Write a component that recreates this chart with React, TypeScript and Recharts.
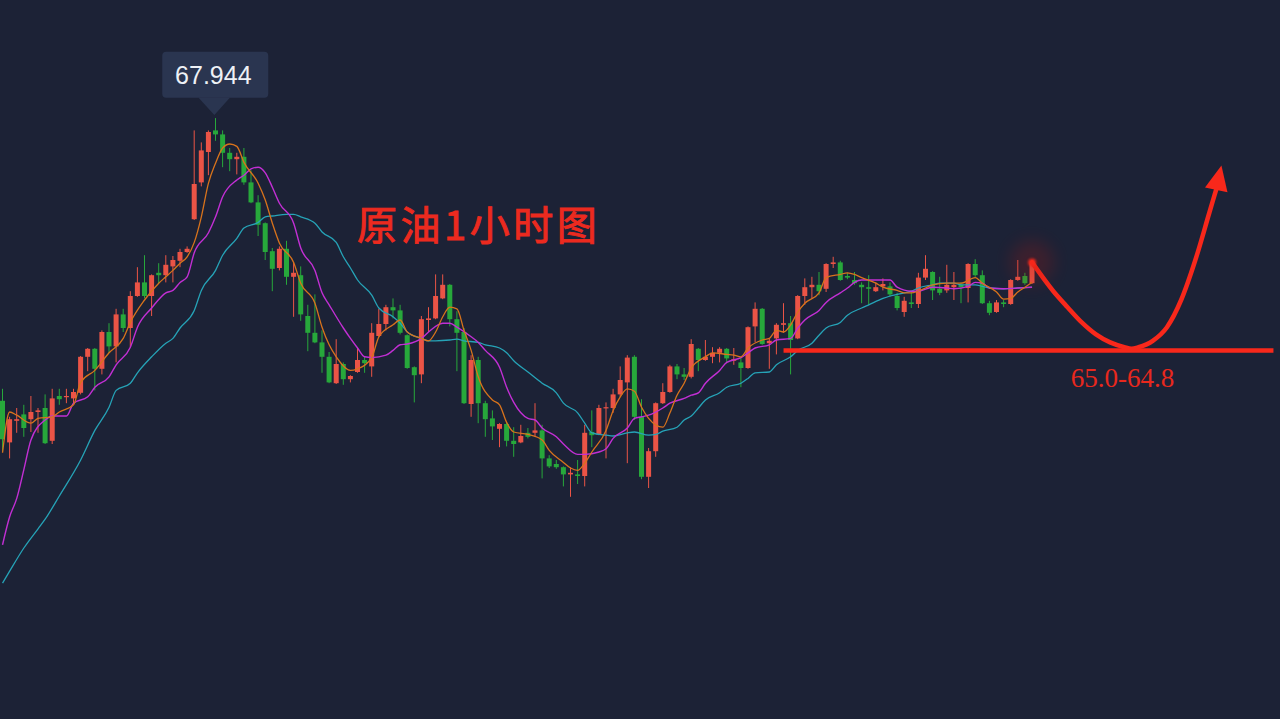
import React from "react";
import { ComposedChart, Bar, Line, XAxis, YAxis, ReferenceDot } from "recharts";

// ---- candle data (1-hour crude oil), index 0..145 ----
const opens = [
  64.41, 63.89, 64.16, 64.24, 64.18, 64.27, 64.32, 63.91, 64.47, 64.46,
  64.44, 64.51, 64.96, 65.06, 64.81, 65.27, 65.09, 65.49, 65.32, 65.72,
  65.89, 65.72, 66.01, 65.98, 66.09, 66.16, 66.27, 66.68, 67.14, 67.52,
  67.79, 67.74, 67.51, 67.43, 67.46, 67.14, 66.89, 66.63, 66.28, 66.07,
  66.31, 65.96, 65.98, 65.47, 65.26, 65.14, 64.96, 64.63, 64.87, 64.68,
  64.77, 64.92, 64.84, 65.22, 65.37, 65.58, 65.54, 65.23, 64.83, 64.74,
  65.42, 65.44, 65.69, 65.86, 65.43, 65.27, 64.37, 64.92, 64.38, 64.19,
  64.06, 64.12, 63.91, 63.89, 64.01, 64.01, 64.04, 63.69, 63.62, 63.58,
  63.49, 63.49, 63.47, 64.02, 63.99, 64.32, 64.32, 64.49, 64.64, 64.96,
  64.21, 63.46, 63.78, 64.38, 64.52, 64.84, 64.74, 64.71, 65.06, 64.92,
  64.96, 65.01, 65.06, 64.91, 64.89, 64.82, 65.34, 65.56, 65.13, 65.19,
  65.36, 65.38, 65.19, 65.72, 65.83, 65.86, 65.81, 66.12, 66.14, 65.97,
  65.92, 65.86, 65.83, 65.78, 65.84, 65.84, 65.72, 65.52, 65.64, 65.62,
  65.95, 66.02, 65.81, 65.79, 65.83, 65.86, 65.82, 66.12, 65.98, 65.63,
  65.52, 65.64, 65.62, 65.92, 65.97, 65.88,
];
const highs = [
  64.56, 64.21, 64.32, 64.36, 64.47, 64.32, 64.49, 64.56, 64.56, 64.56,
  64.56, 64.97, 65.07, 65.07, 65.29, 65.38, 65.56, 65.56, 65.78, 66.08,
  66.23, 65.99, 66.13, 66.23, 66.22, 66.31, 66.34, 67.79, 67.64, 67.79,
  67.944, 67.79, 67.57, 67.51, 67.57, 67.29, 66.98, 66.64, 66.32, 66.34,
  66.41, 66.14, 66.09, 65.61, 65.74, 65.29, 65.02, 65.18, 64.89, 64.73,
  65.08, 64.96, 65.38, 65.56, 65.61, 65.69, 65.61, 65.24, 64.84, 65.47,
  65.58, 65.99, 65.99, 65.87, 65.53, 65.32, 64.98, 64.96, 64.41, 64.29,
  64.13, 64.14, 64.08, 64.11, 64.07, 64.38, 64.11, 63.73, 63.67, 63.59,
  63.58, 63.67, 64.11, 64.29, 64.36, 64.39, 64.56, 64.84, 64.98, 64.98,
  64.43, 63.82, 64.39, 64.63, 64.86, 64.87, 64.82, 65.18, 65.07, 65.17,
  65.08, 65.08, 65.07, 65.07, 64.96, 65.34, 65.64, 65.57, 65.19, 65.38,
  65.63, 65.47, 65.73, 65.94, 65.96, 66.02, 66.13, 66.21, 66.16, 66.01,
  66.02, 65.89, 65.98, 65.89, 65.94, 65.89, 65.76, 65.71, 65.77, 66.01,
  66.23, 66.03, 65.96, 66.11, 66.02, 65.89, 66.13, 66.18, 66.04, 65.66,
  65.67, 65.67, 65.93, 66.17, 66.01, 66.17,
];
const lows = [
  63.77, 63.69, 64.01, 63.96, 64.02, 64.01, 63.87, 63.87, 64.36, 64.38,
  64.38, 64.49, 64.78, 64.54, 64.74, 65.01, 64.89, 65.27, 65.08, 65.71,
  65.69, 65.47, 65.88, 65.89, 65.89, 66.08, 66.26, 66.67, 67.09, 67.23,
  67.66, 67.33, 67.28, 67.24, 67.11, 66.88, 66.47, 66.17, 65.78, 66.04,
  65.86, 65.46, 65.41, 65.03, 65.13, 64.76, 64.63, 64.62, 64.61, 64.64,
  64.76, 64.76, 64.71, 65.21, 65.29, 65.44, 65.24, 64.81, 64.39, 64.63,
  65.27, 65.43, 65.68, 65.34, 64.78, 64.37, 64.21, 64.13, 63.96, 63.92,
  63.83, 63.84, 63.71, 63.88, 63.94, 63.96, 63.44, 63.57, 63.56, 63.34,
  63.21, 63.37, 63.34, 63.83, 63.98, 63.69, 64.26, 64.46, 63.63, 64.17,
  63.43, 63.32, 63.71, 64.37, 64.51, 64.68, 64.67, 64.69, 64.78, 64.91,
  64.88, 64.89, 64.88, 64.86, 64.58, 64.81, 65.14, 65.11, 64.81, 64.99,
  65.26, 64.74, 65.18, 65.61, 65.69, 65.73, 65.77, 66.07, 65.91, 65.93,
  65.86, 65.63, 65.61, 65.77, 65.79, 65.71, 65.54, 65.46, 65.57, 65.57,
  65.92, 65.67, 65.73, 65.76, 65.67, 65.63, 65.64, 65.96, 65.62, 65.48,
  65.51, 65.58, 65.61, 65.91, 65.86, 65.87,
];
const closes = [
  63.93, 64.18, 64.18, 64.07, 64.27, 64.29, 63.88, 64.44, 64.43, 64.47,
  64.52, 64.96, 65.06, 64.81, 65.27, 65.09, 65.49, 65.32, 65.72, 65.89,
  65.72, 65.98, 65.98, 66.11, 66.17, 66.27, 66.31, 67.12, 67.54, 67.77,
  67.74, 67.51, 67.43, 67.46, 67.14, 66.89, 66.61, 66.27, 66.06, 66.31,
  65.96, 66.01, 65.49, 65.26, 65.14, 64.96, 64.64, 64.87, 64.68, 64.72,
  64.92, 64.88, 65.26, 65.37, 65.58, 65.54, 65.26, 64.82, 64.73, 65.43,
  65.44, 65.72, 65.86, 65.43, 65.26, 64.38, 64.92, 64.38, 64.18, 64.09,
  64.12, 63.91, 63.87, 63.97, 63.96, 64.04, 63.69, 63.59, 63.58, 63.49,
  63.51, 63.47, 64.01, 63.98, 64.32, 64.33, 64.49, 64.67, 64.95, 64.21,
  63.46, 63.78, 64.38, 64.52, 64.84, 64.74, 64.71, 65.12, 64.92, 64.96,
  65.01, 65.06, 64.94, 64.93, 64.82, 65.33, 65.56, 65.12, 65.16, 65.36,
  65.38, 65.17, 65.72, 65.83, 65.86, 65.78, 66.12, 66.14, 65.92, 65.95,
  65.88, 65.83, 65.81, 65.83, 65.87, 65.74, 65.57, 65.66, 65.62, 65.95,
  66.06, 65.79, 65.76, 65.86, 65.86, 65.83, 66.12, 65.98, 65.63, 65.51,
  65.64, 65.62, 65.92, 65.96, 65.88, 66.13,
];

// ---- moving-average lines, read as [candle index, price] ----
const maFast: [number, number][] = [
  [0, 63.76], [1, 64.27], [2, 64.23], [4, 64.13], [5, 64.19], [7, 64.21], [8, 64.27], [10, 64.36],
  [11, 64.64], [13, 64.79], [15, 65.01], [17, 65.19], [18, 65.39], [20, 65.67], [22, 65.88], [23, 65.96],
  [24, 66.04], [25, 66.13], [26, 66.21], [27, 66.39], [28, 66.71], [29, 67.13], [30, 67.38], [31, 67.57],
  [32, 67.62], [33, 67.59], [34, 67.39], [36, 67.13], [37, 66.92], [38, 66.63], [39, 66.38], [41, 66.14],
  [42, 65.88], [44, 65.63], [45, 65.33], [46, 65.11], [47, 64.96], [49, 64.79], [50, 64.81], [52, 64.95],
  [53, 65.21], [55, 65.36], [56, 65.42], [57, 65.27], [59, 65.19], [60, 65.16], [61, 65.27], [62, 65.46],
  [63, 65.58], [64, 65.56], [65, 65.29], [66, 65.04], [67, 64.71], [69, 64.42], [70, 64.36], [71, 64.14],
  [72, 64.02], [74, 63.99], [76, 63.92], [77, 63.79], [79, 63.64], [80, 63.57], [81, 63.54], [82, 63.63],
  [83, 63.77], [85, 64.04], [86, 64.29], [87, 64.46], [88, 64.56], [89, 64.53], [90, 64.33], [91, 64.19],
  [93, 64.08], [94, 64.26], [95, 64.48], [96, 64.63], [97, 64.82], [99, 64.96], [100, 65.01], [102, 64.99],
  [103, 64.98], [104, 64.96], [105, 65.07], [107, 65.17], [108, 65.19], [109, 65.29], [110, 65.27], [111, 65.36],
  [112, 65.52], [113, 65.63], [115, 65.76], [116, 65.95], [118, 65.99], [119, 66.01], [120, 65.99], [121, 65.95],
  [123, 65.88], [124, 65.83], [126, 65.79], [127, 65.76], [128, 65.76], [130, 65.82], [131, 65.86], [133, 65.88],
  [134, 65.88], [135, 65.88], [137, 65.95], [138, 65.88], [140, 65.77], [141, 65.68], [142, 65.69], [143, 65.77],
  [144, 65.83], [145, 65.89],
];
const maMid: [number, number][] = [
  [0, 62.61], [1, 62.96], [2, 63.19], [3, 63.55], [4, 63.92], [6, 64.17], [7, 64.22], [9, 64.22], [10, 64.38],
  [12, 64.46], [13, 64.58], [15, 64.71], [16, 64.86], [18, 65.08], [19, 65.33], [21, 65.57], [23, 65.76],
  [24, 65.79], [25, 65.89], [26, 65.96], [27, 66.26], [29, 66.51], [30, 66.71], [31, 66.96], [33, 67.17],
  [34, 67.23], [35, 67.31], [36, 67.33], [37, 67.26], [38, 67.08], [39, 66.88], [41, 66.63], [42, 66.32],
  [44, 66.04], [45, 65.76], [46, 65.61], [48, 65.32], [49, 65.19], [50, 65.07], [51, 64.96], [52, 64.95],
  [54, 64.98], [55, 65.04], [56, 65.11], [57, 65.12], [59, 65.19], [60, 65.27], [62, 65.38], [63, 65.38],
  [64, 65.33], [66, 65.21], [67, 65.14], [68, 65.04], [70, 64.83], [71, 64.58], [72, 64.39], [74, 64.19],
  [75, 64.17], [76, 64.07], [78, 63.96], [79, 63.87], [81, 63.74], [82, 63.74], [84, 63.77], [85, 63.81],
  [86, 63.94], [88, 64.07], [89, 64.19], [90, 64.21], [91, 64.23], [93, 64.32], [94, 64.38], [96, 64.44],
  [97, 64.48], [98, 64.51], [99, 64.63], [101, 64.79], [102, 64.89], [104, 64.95], [105, 65.01], [106, 65.07],
  [108, 65.11], [109, 65.17], [111, 65.19], [112, 65.32], [113, 65.42], [115, 65.54], [116, 65.64], [118, 65.76],
  [119, 65.82], [120, 65.89], [121, 65.92], [123, 65.92], [125, 65.92], [126, 65.83], [128, 65.78], [129, 65.78],
  [131, 65.83], [133, 65.82], [134, 65.81], [136, 65.84], [137, 65.89], [138, 65.88], [139, 65.82], [141, 65.81],
  [143, 65.82], [145, 65.83],
];
const maSlow: [number, number][] = [
  [0, 62.13], [1, 62.28], [3, 62.57], [5, 62.81], [6, 62.93], [8, 63.22], [11, 63.67], [13, 64.04], [15, 64.33], [16, 64.54],
  [18, 64.63], [19, 64.76], [21, 64.96], [23, 65.13], [24, 65.19], [25, 65.32], [27, 65.54], [28, 65.79],
  [30, 66.04], [31, 66.23], [33, 66.44], [34, 66.57], [36, 66.64], [37, 66.71], [38, 66.72], [40, 66.74],
  [41, 66.74], [42, 66.71], [44, 66.63], [45, 66.52], [47, 66.39], [48, 66.21], [49, 66.07], [50, 65.92],
  [52, 65.73], [53, 65.57], [55, 65.46], [56, 65.38], [57, 65.27], [59, 65.19], [60, 65.16], [61, 65.16],
  [63, 65.17], [64, 65.18], [65, 65.16], [67, 65.14], [68, 65.11], [70, 65.07], [71, 65.01], [72, 64.91],
  [74, 64.77], [76, 64.63], [78, 64.51], [79, 64.38], [81, 64.26], [82, 64.13], [83, 64.01], [85, 63.98],
  [86, 63.97], [88, 64.01], [89, 64.02], [91, 63.98], [92, 63.99], [93, 64.03], [95, 64.08], [96, 64.17],
  [97, 64.22], [98, 64.32], [99, 64.42], [101, 64.51], [102, 64.58], [104, 64.63], [105, 64.69], [106, 64.76],
  [108, 64.77], [109, 64.86], [111, 64.96], [112, 65.04], [114, 65.13], [115, 65.23], [116, 65.32], [118, 65.39],
  [119, 65.48], [121, 65.57], [122, 65.61], [124, 65.69], [125, 65.72], [127, 65.76], [128, 65.78], [129, 65.82],
  [131, 65.86], [132, 65.88], [134, 65.88], [135, 65.86], [137, 65.86], [138, 65.84], [139, 65.82], [141, 65.81],
  [143, 65.82], [145, 65.83],
];

// ---- annotations ----
const projection: [number, number][] = [
  [145, 66.14], [148, 65.78], [150, 65.58], [152, 65.39], [154, 65.24], [156, 65.14], [158, 65.08],
  [159, 65.06], [160, 65.08], [162, 65.16], [164, 65.33], [166, 65.67], [168, 66.17], [170, 66.77], [171, 67.07],
];
const supportLevel: [number, number][] = [[110, 65.04], [179, 65.04]];
const supportLabel = "65.0-64.8";
const titleText = "原油1小时图";
const peakIndex = 30;
const CATEGORY_COUNT = 180;

const RED = "#eb5446";
const GREEN = "#27a83b";
const BG = "#1c2236";
const MARK_RED = "#f8281b";

const table: any[] = Array.from({ length: CATEGORY_COUNT }, (_, i) => {
  const row: any = { i };
  if (i < opens.length) {
    row.o = opens[i];
    row.h = highs[i];
    row.l = lows[i];
    row.c = closes[i];
    row.range = [lows[i], highs[i]];
  }
  return row;
});
maFast.forEach(([i, v]) => (table[i].ma1 = v));
maMid.forEach(([i, v]) => (table[i].ma2 = v));
maSlow.forEach(([i, v]) => (table[i].ma3 = v));
projection.forEach(([i, v]) => (table[i].proj = v));
supportLevel.forEach(([i, v]) => (table[i].level = v));

const Candle = (props: any) => {
  const { x, y, width, height, payload } = props;
  if (!payload || payload.o == null) return <g />;
  const { o, h, l, c } = payload;
  const top = Math.min(y, y + height);
  const hgt = Math.abs(height);
  const k = h - l > 0 ? hgt / (h - l) : 0;
  const yO = top + (h - o) * k;
  const yC = top + (h - c) * k;
  const color = c >= o ? RED : GREEN;
  const cx = x + width / 2;
  const bodyTop = Math.min(yO, yC);
  const bodyH = Math.max(Math.abs(yO - yC), 1.2);
  return (
    <g>
      <line x1={cx} x2={cx} y1={top} y2={top + hgt} stroke={color} strokeWidth={1} />
      <rect x={x} y={bodyTop} width={width} height={bodyH} fill={color} />
    </g>
  );
};

const NoDot = (props: any) => <g key={`nd-${props.dataKey}-${props.index}`} />;

const lastProj = projection[projection.length - 1][0];
const firstProj = projection[0][0];
const ProjDot = (props: any) => {
  const { cx, cy, payload, index } = props;
  const key = `pd-${index}`;
  if (!payload || cx == null || cy == null) return <g key={key} />;
  if (payload.i === lastProj) {
    return (
      <g key={key} transform={`translate(${cx},${cy}) rotate(12)`}>
        <polygon points="0,-23 -11.5,2 11.5,2" fill={MARK_RED} />
      </g>
    );
  }
  if (payload.i === firstProj) {
    return (
      <g key={key}>
        <circle cx={cx} cy={cy} r={22} fill="#b01810" opacity={0.22} style={{ filter: "blur(8px)" }} />
        <circle cx={cx} cy={cy} r={4} fill={MARK_RED} opacity={0.9} style={{ filter: "blur(1px)" }} />
      </g>
    );
  }
  return <g key={key} />;
};

const PeakTag = (props: any) => {
  const { cx, cy } = props;
  const fill = "#2a3550";
  return (
    <g>
      <rect x={cx - 53.3} y={cy - 66.4} width={106} height={46} rx={4} fill={fill} />
      <polygon points={`${cx - 17.2},${cy - 20.6} ${cx + 14.5},${cy - 20.6} ${cx - 1.2},${cy - 3}`} fill={fill} />
      <text
        x={cx - 2.2}
        y={cy - 33.8}
        textAnchor="middle"
        fontSize={25}
        fill="#eef1f6"
        fontFamily="'Liberation Sans', Arial, sans-serif"
      >
        {highs[peakIndex].toFixed(3)}
      </text>
    </g>
  );
};

const LevelTag = (props: any) => {
  const { cx, cy } = props;
  return (
    <text
      x={cx - 1.9}
      y={cy}
      textAnchor="middle"
      fontSize={27}
      fill="#e8281d"
      fontFamily="'Liberation Serif', 'DejaVu Serif', serif"
    >
      {supportLabel}
    </text>
  );
};

export default function App() {
  return (
    <div
      style={{
        position: "absolute",
        left: 0,
        top: 0,
        width: 1280,
        height: 719,
        background: BG,
        overflow: "hidden",
      }}
    >
      <div style={{ position: "absolute", left: -1, top: 0 }}>
        <ComposedChart width={1280} height={719} data={table} margin={{ top: 0, right: 2, bottom: 0, left: 0 }}>
          <XAxis dataKey="i" type="category" hide />
          <YAxis type="number" domain={[60.4325, 69.42]} allowDataOverflow hide />
          <Bar dataKey="range" barSize={5} shape={<Candle />} isAnimationActive={false} />
          <Line dataKey="ma3" type="monotone" stroke="#26a3b7" strokeWidth={1.3} dot={NoDot} activeDot={false} connectNulls isAnimationActive={false} />
          <Line dataKey="ma2" type="monotone" stroke="#c22fd4" strokeWidth={1.4} dot={NoDot} activeDot={false} connectNulls isAnimationActive={false} />
          <Line dataKey="ma1" type="monotone" stroke="#d8731c" strokeWidth={1.3} dot={NoDot} activeDot={false} connectNulls isAnimationActive={false} />
          <Line dataKey="level" type="linear" stroke={MARK_RED} strokeWidth={4.5} dot={NoDot} activeDot={false} connectNulls isAnimationActive={false} />
          <Line dataKey="proj" type="monotone" stroke={MARK_RED} strokeWidth={4.5} strokeLinecap="round" dot={ProjDot} activeDot={false} connectNulls isAnimationActive={false} />
          <ReferenceDot x={peakIndex} y={highs[peakIndex]} r={0} shape={PeakTag} />
          <ReferenceDot x={158} y={64.58} r={0} shape={LevelTag} />
        </ComposedChart>
      </div>
      <svg width={1280} height={719} style={{ position: "absolute", left: 0, top: 0, pointerEvents: "none" }}>
        <text
          x={357}
          y={240}
          fontSize={40}
          fill="#ec2a1f"
          stroke="#ec2a1f"
          strokeWidth={0.9}
          fontWeight={400}
          letterSpacing={3.5}
          fontFamily="'Noto Sans CJK SC', sans-serif"
        >
          {titleText}
        </text>
      </svg>
    </div>
  );
}
